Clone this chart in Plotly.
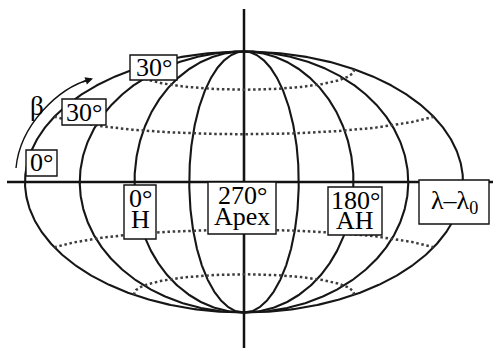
import numpy as np
import plotly.graph_objects as go

# Grid of the sky map (degrees)
meridian_lons = [-180, -135, -90, -45, 0, 45, 90, 135, 180]
parallel_lats = [-60, -30, 30, 60]

# Box labels: (lines of text, box in pixels x0, y0, x1, y1)
W, H = 493, 349
box_labels = [
    (["30°"], (130, 55, 177, 80)),
    (["30°"], (62, 99, 106, 125)),
    (["0°"], (26, 150, 57, 176)),
    (["0°", "H"], (124, 185, 156, 239)),
    (["270°", "Apex"], (208, 182, 276, 234)),
    (["180°", "AH"], (328, 187, 382, 235)),
    (["λ–λ<sub>0</sub>"], (419, 180, 489, 224)),
]

# Pixel frame of the ellipse
CX, A = 244.0, 219.0
CY, B = 182.0, 130.5


def project(lon, lat):
    """Elliptical meridians with Hammer-style parallels, normalised to [-1, 1]."""
    lam = np.radians(lon)
    phi = np.radians(lat)
    y = np.sin(phi) / np.sqrt(1.0 + np.cos(phi) * np.cos(lam / 2.0))
    psi = np.arcsin(np.clip(y, -1.0, 1.0))
    x = (lam / np.pi) * np.cos(psi)
    return x, y


def px(x):
    return x / W


def py(y):
    return 1.0 - y / H


fig = go.Figure()

line_col = "#161616"
for lon in meridian_lons:
    lat = np.linspace(-90, 90, 361)
    x, y = project(np.full_like(lat, lon), lat)
    fig.add_trace(go.Scatter(x=x, y=y, mode="lines",
                             line=dict(color=line_col, width=2.1),
                             hoverinfo="skip", showlegend=False))

for lat0 in parallel_lats:
    lon = np.linspace(-180, 180, 721)
    x, y = project(lon, np.full_like(lon, lat0))
    fig.add_trace(go.Scatter(x=x, y=y, mode="lines",
                             line=dict(color="#3c3c3c", width=2.5, dash="2.5px,2.7px"),
                             hoverinfo="skip", showlegend=False))

shapes = [
    # reference axes through the map
    dict(type="line", xref="paper", yref="y", x0=px(7), x1=px(493), y0=0, y1=0,
         line=dict(color="#111", width=2.5), layer="below"),
    dict(type="line", xref="x", yref="paper", x0=0, x1=0, y0=py(9), y1=py(348),
         line=dict(color="#111", width=2.5), layer="below"),
    # curved beta arrow
    dict(type="path", xref="paper", yref="paper",
         path=(f"M {px(16)},{py(168)} C {px(20)},{py(125)} "
               f"{px(58)},{py(88)} {px(91)},{py(79)}"),
         line=dict(color="#111", width=1.4), layer="above"),
]

annotations = []
font = dict(family="Liberation Serif", size=26, color="#000")
for lines, (x0, y0, x1, y1) in box_labels:
    shapes.append(dict(type="rect", xref="paper", yref="paper",
                       x0=px(x0), x1=px(x1), y0=py(y0), y1=py(y1),
                       fillcolor="white", line=dict(color="#111", width=1.4),
                       layer="above"))
    xc = (x0 + x1) / 2
    n = len(lines)
    if n == 1:
        ys = [(y0 + y1) / 2]
    else:
        ys = [y0 + 13.5, y0 + 34]
    for t, yc in zip(lines, ys):
        annotations.append(dict(text=t, x=px(xc), y=py(yc), xref="paper", yref="paper",
                                xanchor="center", yanchor="middle", showarrow=False,
                                font=font))

annotations.append(dict(text="β", x=px(37), y=py(106), xref="paper", yref="paper",
                        xanchor="center", yanchor="middle", showarrow=False,
                        font=dict(family="Liberation Serif", size=27, color="#000")))
# arrow head at the end of the beta arc
annotations.append(dict(text="", x=px(93), y=py(78.5), xref="paper", yref="paper",
                        ax=-12, ay=4, showarrow=True, arrowhead=2, arrowsize=1.1,
                        arrowwidth=1.4, arrowcolor="#111", standoff=0))

fig.update_layout(
    width=W, height=H,
    margin=dict(l=0, r=0, t=0, b=0),
    paper_bgcolor="white", plot_bgcolor="white",
    xaxis=dict(range=[(0 - CX) / A, (W - CX) / A], visible=False, fixedrange=True),
    yaxis=dict(range=[(CY - H) / B, CY / B], visible=False, fixedrange=True),
    shapes=shapes, annotations=annotations, showlegend=False,
)

fig.write_html("out.html")
